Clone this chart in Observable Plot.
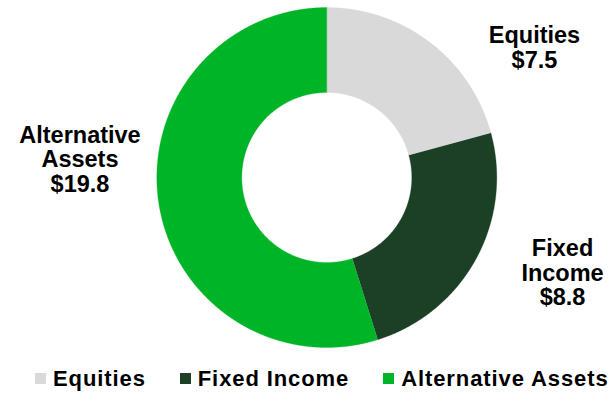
<!DOCTYPE html>
<html>
<head>
<meta charset="utf-8">
<script src="https://cdn.jsdelivr.net/npm/d3@7"></script>
<script src="https://cdn.jsdelivr.net/npm/@observablehq/plot@0.6"></script>
<style>
  html, body { margin: 0; padding: 0; background: #ffffff; }
  #chart { width: 615px; }
  .lg-swatches { font-family: "Liberation Sans", Arial, sans-serif !important; font-size: 22px !important; font-weight: bold !important; letter-spacing: 0.9px; color: #000 !important; margin: 0 !important; padding-left: 35px !important; height: 33px; min-height: 33px !important; flex-wrap: nowrap !important; white-space: nowrap; overflow: visible; }
  .lg-swatch { margin-right: 34px !important; flex-shrink: 0; }
  .lg-swatch:last-child { margin-right: 0 !important; }
  .lg-swatch > svg { margin-right: 7px !important; }
</style>
</head>
<body>
<div id="chart"></div>
<script>
const categories = ["Equities", "Fixed Income", "Alternative Assets"];
const values = [7.5, 8.8, 19.8];
const labels = ["Equities", "Fixed\nIncome", "Alternative\nAssets"];
const colors = ["#D9D9D9", "#1B4025", "#00B428"];

const W = 615, H = 362, CX = 326.3, CY = 177, R = 170, INNER = 0.5;

// slice angles (clockwise from top) via d3.pie
const pie = d3.pie().sort(null).value(d => d)(values);

const polys = [];
pie.forEach((s, i) => {
  const a0 = s.startAngle, a1 = s.endAngle;
  const n = Math.max(2, Math.ceil((a1 - a0) / (Math.PI / 720)));
  for (let k = 0; k <= n; k++) {
    const a = a0 + (a1 - a0) * k / n;
    polys.push({category: categories[i], x: Math.sin(a), y: Math.cos(a)});
  }
  for (let k = n; k >= 0; k--) {
    const a = a0 + (a1 - a0) * k / n;
    polys.push({category: categories[i], x: INNER * Math.sin(a), y: INNER * Math.cos(a)});
  }
});

const anchors = pie.map((s, i) => {
  const m = (s.startAngle + s.endAngle) / 2;
  return {category: categories[i], x: Math.sin(m), y: Math.cos(m), text: labels[i] + "\n$" + values[i].toFixed(1)};
});

const offsets = [[104.4, 5.1], [86.6, 14.0], [-78.8, -43.7]];

const textMarks = anchors.map((a, i) => Plot.text([a], {
  x: "x", y: "y", text: "text",
  dx: offsets[i][0], dy: offsets[i][1],
  fontSize: 23.5, fontWeight: "bold", lineHeight: 1.04,
  fontFamily: "Liberation Sans, Arial, sans-serif",
  fill: "#000", textAnchor: "middle"
}));

const plot = Plot.plot({
  width: W, height: H,
  margin: 0,
  x: {domain: [-CX / R, (W - CX) / R], axis: null},
  y: {domain: [-(H - CY) / R, CY / R], axis: null},
  color: {domain: categories, range: colors},
  style: {background: "#fff", overflow: "visible"},
  marks: [
    Plot.line(polys, {x: "x", y: "y", z: "category", fill: "category", stroke: "category", strokeWidth: 0.3, curve: "linear"}),
    ...textMarks
  ]
});

const legend = Plot.legend({
  color: {domain: categories, range: colors},
  legend: "swatches",
  swatchSize: 11,
  className: "lg"
});

const host = document.getElementById("chart");
host.appendChild(plot);
host.appendChild(legend);
</script>
</body>
</html>
